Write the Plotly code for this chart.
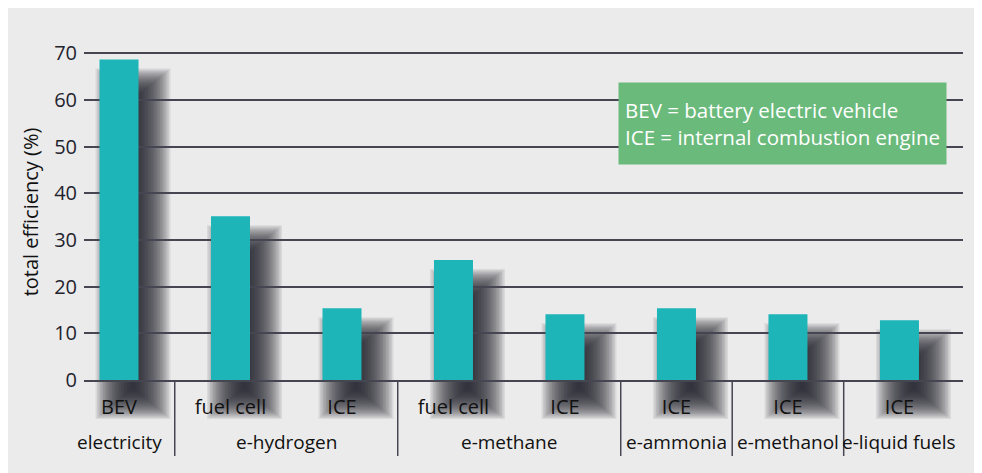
import plotly.graph_objects as go

# ---- data ----
fuel_groups = ["electricity", "e-hydrogen", "e-hydrogen", "e-methane", "e-methane",
               "e-ammonia", "e-methanol", "e-liquid fuels"]
drive_types = ["BEV", "fuel cell", "ICE", "fuel cell", "ICE", "ICE", "ICE", "ICE"]
efficiency = [68.7, 35.1, 15.4, 25.7, 14.1, 15.4, 14.1, 12.8]
y_ticks = [0, 10, 20, 30, 40, 50, 60, 70]

# ---- style / layout constants ----
FONT = "Open Sans"
TEXT = "#23232e"
GRID = "#464652"
BAR = "#1db5b8"
PANEL = "#ebebeb"
W, H = 982, 473
M_L, M_R, M_T, M_B = 76, 27, 36, 40
AXIS_PX = 372            # pixel row of the zero line
GROUP_LABEL_PX = 434     # pixel row of the group label centres
DIVIDER_END_PX = 448
Y_MAX = 72
X_RANGE = [-0.314, 7.570]
BAR_PX = 39
SH_DX, SH_DY = 14, 24    # shadow offset (px)
BLUR_X, BLUR_Y = 18, 15  # shadow softness (px)
SH_STEPS = 25

paper_h = H - M_T - M_B
plot_w = W - M_L - M_R
main_bottom = (H - M_B - AXIS_PX) / paper_h
px_per_unit = (AXIS_PX - M_T) / Y_MAX
px_per_cat = plot_w / (X_RANGE[1] - X_RANGE[0])
shadow_ymin = -(H - M_B - AXIS_PX) / px_per_unit
idx = list(range(len(efficiency)))   # category slots

fig = go.Figure()

# soft drop shadow: stacked translucent bars on a taller background subplot
u = 1.0 / px_per_unit
for k in range(SH_STEPS):
    t = 1 - 2 * k / (SH_STEPS - 1)          # from +1 (largest) to -1 (smallest)
    ex, ey = t * BLUR_X, t * BLUR_Y
    w_px = BAR_PX + 2 * ex
    fig.add_trace(go.Bar(
        x=idx,
        y=[v + 2 * ey * u for v in efficiency],
        base=-(SH_DY + ey) * u,
        width=w_px / px_per_cat,
        offset=(SH_DX - w_px / 2) / px_per_cat,
        marker=dict(color="rgba(32,32,44,0.085)", line=dict(width=0)),
        hoverinfo="skip",
        showlegend=False,
        xaxis="x", yaxis="y",
    ))

# main bars
fig.add_trace(go.Bar(
    x=idx,
    y=efficiency,
    width=BAR_PX / px_per_cat,
    marker=dict(color=BAR, line=dict(width=0)),
    customdata=[[g, d] for g, d in zip(fuel_groups, drive_types)],
    hovertemplate="%{customdata[0]} – %{customdata[1]}: %{y}%<extra></extra>",
    showlegend=False,
    xaxis="x2", yaxis="y2",
))

# group dividers and group labels derived from the group list
shapes, annotations = [], []
start = 0
for i in range(1, len(fuel_groups) + 1):
    if i == len(fuel_groups) or fuel_groups[i] != fuel_groups[i - 1]:
        annotations.append(dict(
            xref="x2", yref="paper",
            x=(start + i - 1) / 2, y=(H - M_B - GROUP_LABEL_PX) / paper_h,
            xanchor="center", yanchor="middle",
            text=fuel_groups[start], showarrow=False,
            font=dict(family=FONT, size=19, color="#111"),
        ))
        if i < len(fuel_groups):
            shapes.append(dict(
                type="line", xref="x2", yref="paper",
                x0=i - 0.5, x1=i - 0.5,
                y0=main_bottom, y1=(H - M_B - DIVIDER_END_PX) / paper_h,
                line=dict(color=GRID, width=1.5),
            ))
        start = i

annotations.append(dict(
    xref="paper", yref="paper",
    x=(939 - M_L) / plot_w, y=(H - M_B - 74) / paper_h,
    xanchor="right", yanchor="top",
    text="BEV = battery electric vehicle<br>ICE = internal combustion engine",
    align="left", valign="middle",
    width=315, height=69,
    showarrow=False,
    bgcolor="#6aba7c", borderpad=6,
    font=dict(family=FONT, size=20.5, color="white"),
))

fig.update_layout(
    width=W, height=H,
    margin=dict(l=M_L, r=M_R, t=M_T, b=M_B),
    paper_bgcolor=PANEL,
    plot_bgcolor="rgba(0,0,0,0)",
    barmode="overlay",
    font=dict(family=FONT, color=TEXT, size=19),
    xaxis=dict(range=X_RANGE, visible=False, domain=[0, 1], anchor="y"),
    yaxis=dict(range=[shadow_ymin, Y_MAX], visible=False,
               domain=[0, 1], anchor="x"),
    xaxis2=dict(
        range=X_RANGE, domain=[0, 1], anchor="y2",
        automargin=False,
        tickmode="array", tickvals=idx, ticktext=drive_types,
        tickangle=0,
        showgrid=False, zeroline=False,
        showline=True, linecolor=GRID, linewidth=2,
        ticks="", ticklabelstandoff=8,
        tickfont=dict(family=FONT, size=20, color="#111"),
    ),
    yaxis2=dict(
        range=[0, Y_MAX], domain=[main_bottom, 1], anchor="x2",
        automargin=False,
        tickvals=y_ticks,
        showgrid=True, gridcolor=GRID, gridwidth=1.7,
        zeroline=False, showline=False,
        ticks="", ticklabelstandoff=6,
        tickfont=dict(family=FONT, size=20, color=TEXT),
        title=dict(text="total efficiency (%)", standoff=10,
                   font=dict(family=FONT, size=20, color="#111")),
    ),
    shapes=shapes,
    annotations=annotations,
)

fig.write_html("out.html")
